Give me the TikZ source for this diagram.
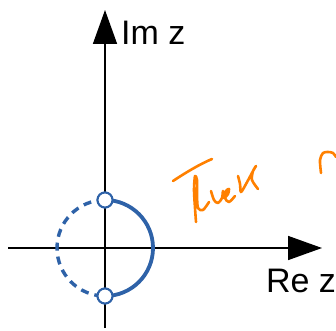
\documentclass[tikz,border=0pt]{standalone}
\usepackage{fontspec}
\setmainfont{Liberation Sans}
\usepackage{xcolor}
\usepackage{tikz}
\usetikzlibrary{arrows.meta}
\definecolor{arcblue}{RGB}{46,98,168}
\definecolor{inkorange}{RGB}{255,128,0}

\begin{document}
\begin{tikzpicture}[
      x=1pt,y=1pt,
      axis/.style={draw,black,line width=1.6pt,-{Triangle[length=34pt,width=24pt]}},
      half/.style={draw=arcblue,line width=3.8pt},
      dashhalf/.style={draw=arcblue,line width=3.4pt,dash pattern=on 8pt off 6pt},
      marker/.style={circle,draw=arcblue,fill=white,line width=2pt,
                     minimum size=15pt,inner sep=0pt},
      label/.style={font=\fontsize{34}{34}\selectfont,inner sep=0pt},
      ink/.style={draw=inkorange,line width=2.6pt,line cap=round,line join=round}]

    \useasboundingbox (0,0) rectangle (336,330);

    \coordinate (o) at (105,82);
    \coordinate (xl) at (8,82);
    \coordinate (xr) at (322,82);
    \coordinate (yb) at (105,2);
    \coordinate (yt) at (105,320);

    \draw[axis] (xl) -- (xr);
    \draw[axis] (yb) -- (yt);

    \node[label,anchor=west] (im) at (121,297) {Im z};
    \node[label] (re) at (301,49) {Re z};

    \node[marker] (top) at (105,130) {};
    \node[marker] (bot) at (105,34) {};

    \draw[half] (top.center) arc[start angle=90,end angle=-90,radius=48];
    \draw[dashhalf] (top.center) arc[start angle=90,end angle=270,radius=48];

    \node[marker] at (top) {};
    \node[marker] at (bot) {};

    \draw[ink] (173,149) .. controls (185,157) and (200,166) .. (212,171);
    \draw[ink] plot[smooth] coordinates {(196,108) (195,122) (194,140) (195,154)
      (197,150) (197,135) (198,122) (203,120) (209,128)};
    \draw[ink] plot[smooth] coordinates {(211,139) (214,130) (218,127) (222,132)
      (223,139) (224,132) (228,136) (229,141) (226,139) (225,132) (229,128) (235,134)};
    \draw[ink] plot[smooth] coordinates {(238,154) (240,146) (241,138) (246,146)
      (253,159) (256,164) (253,159) (252,150) (258,141)};
    \draw[ink] plot[smooth] coordinates {(321,157) (320,170) (323,177) (328,178)
      (333,177) (336,173)};
  \end{tikzpicture}
\end{document}
